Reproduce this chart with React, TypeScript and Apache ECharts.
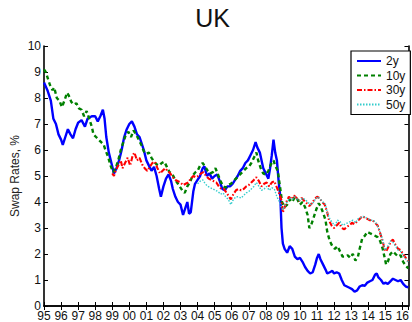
import React, { useEffect, useRef } from "react";
import * as echarts from "echarts";

const titleText = "UK";
const yAxisTitle = "Swap Rates, %";
const seriesNames = ["2y", "10y", "30y", "50y"];
const xMin = 1995;
const xMax = 2016.36;

const t2y = [1995.0, 1995.2, 1995.4, 1995.55, 1995.7, 1995.85, 1996.0, 1996.1, 1996.25, 1996.4, 1996.55, 1996.7, 1996.85, 1997.0, 1997.2, 1997.4, 1997.55, 1997.8, 1998.0, 1998.15, 1998.3, 1998.45, 1998.55, 1998.65, 1998.8, 1998.95, 1999.1, 1999.25, 1999.4, 1999.55, 1999.7, 1999.85, 2000.0, 2000.15, 2000.3, 2000.45, 2000.6, 2000.75, 2000.85, 2001.0, 2001.15, 2001.3, 2001.45, 2001.6, 2001.75, 2001.85, 2002.0, 2002.15, 2002.3, 2002.45, 2002.55, 2002.7, 2002.85, 2003.0, 2003.15, 2003.3, 2003.4, 2003.5, 2003.6, 2003.75, 2003.85, 2004.0, 2004.15, 2004.3, 2004.4, 2004.55, 2004.7, 2004.85, 2005.0, 2005.15, 2005.3, 2005.45, 2005.6, 2005.75, 2005.9, 2006.05, 2006.2, 2006.35, 2006.5, 2006.65, 2006.8, 2006.95, 2007.1, 2007.25, 2007.4, 2007.5, 2007.65, 2007.75, 2007.85, 2008.0, 2008.15, 2008.25, 2008.35, 2008.45, 2008.55, 2008.65, 2008.75, 2008.85, 2008.92, 2009.0, 2009.1, 2009.25, 2009.4, 2009.55, 2009.7, 2009.85, 2010.0, 2010.15, 2010.3, 2010.45, 2010.6, 2010.75, 2010.9, 2011.0, 2011.1, 2011.2, 2011.35, 2011.5, 2011.6, 2011.75, 2011.9, 2012.0, 2012.15, 2012.3, 2012.45, 2012.6, 2012.75, 2012.9, 2013.05, 2013.2, 2013.35, 2013.5, 2013.65, 2013.8, 2013.95, 2014.1, 2014.25, 2014.4, 2014.5, 2014.6, 2014.75, 2014.9, 2015.0, 2015.15, 2015.3, 2015.45, 2015.6, 2015.75, 2015.9, 2016.05, 2016.2, 2016.35];
const r2y = [8.6, 8.3, 7.9, 7.2, 7.0, 6.6, 6.4, 6.2, 6.5, 6.8, 6.6, 6.45, 6.8, 7.05, 7.15, 6.9, 7.2, 7.3, 7.3, 7.1, 7.3, 7.55, 7.2, 6.5, 5.9, 5.5, 5.1, 5.3, 5.6, 6.0, 6.5, 6.8, 7.0, 7.1, 6.9, 6.6, 6.5, 6.2, 6.0, 5.6, 5.4, 5.2, 5.35, 5.0, 4.5, 4.2, 4.6, 4.9, 5.06, 4.8, 4.5, 4.2, 4.0, 3.9, 3.5, 3.8, 4.0, 3.55, 3.6, 4.4, 4.7, 4.85, 5.0, 5.3, 5.37, 5.0, 5.1, 4.9, 5.0, 5.06, 4.8, 4.5, 4.45, 4.6, 4.6, 4.7, 4.85, 5.0, 5.2, 5.3, 5.5, 5.6, 5.8, 6.0, 6.3, 6.1, 5.9, 5.6, 5.3, 5.1, 4.9, 5.3, 5.8, 6.4, 5.9, 5.6, 4.8, 4.2, 3.0, 2.4, 2.2, 2.05, 2.3, 2.2, 1.9, 1.8, 1.85, 1.7, 1.5, 1.35, 1.25, 1.3, 1.6, 1.85, 2.0, 1.8, 1.6, 1.4, 1.25, 1.3, 1.35, 1.25, 1.3, 1.25, 1.0, 0.8, 0.75, 0.7, 0.65, 0.55, 0.6, 0.75, 0.8, 0.78, 0.9, 0.95, 1.0, 1.2, 1.25, 1.1, 1.0, 0.85, 0.9, 0.85, 0.95, 1.05, 1.0, 0.95, 1.0, 0.85, 0.75, 0.72];

const t10y = [1995.0, 1995.1, 1995.2, 1995.35, 1995.5, 1995.6, 1995.75, 1995.9, 1996.05, 1996.2, 1996.35, 1996.45, 1996.6, 1996.75, 1996.9, 1997.05, 1997.2, 1997.35, 1997.5, 1997.65, 1997.8, 1997.9, 1998.05, 1998.2, 1998.35, 1998.5, 1998.6, 1998.75, 1998.9, 1999.05, 1999.2, 1999.35, 1999.5, 1999.65, 1999.8, 1999.95, 2000.1, 2000.25, 2000.4, 2000.55, 2000.7, 2000.85, 2001.0, 2001.15, 2001.3, 2001.45, 2001.6, 2001.75, 2001.9, 2002.05, 2002.2, 2002.35, 2002.5, 2002.65, 2002.8, 2002.95, 2003.1, 2003.25, 2003.4, 2003.55, 2003.7, 2003.85, 2004.0, 2004.15, 2004.3, 2004.45, 2004.6, 2004.75, 2004.9, 2005.05, 2005.2, 2005.35, 2005.5, 2005.65, 2005.8, 2005.95, 2006.1, 2006.25, 2006.4, 2006.55, 2006.7, 2006.85, 2007.0, 2007.15, 2007.3, 2007.45, 2007.55, 2007.7, 2007.85, 2008.0, 2008.15, 2008.3, 2008.45, 2008.55, 2008.7, 2008.85, 2008.95, 2009.1, 2009.25, 2009.4, 2009.55, 2009.7, 2009.85, 2010.0, 2010.15, 2010.3, 2010.45, 2010.55, 2010.65, 2010.8, 2010.95, 2011.1, 2011.2, 2011.35, 2011.5, 2011.6, 2011.75, 2011.9, 2012.05, 2012.2, 2012.35, 2012.5, 2012.65, 2012.8, 2012.95, 2013.1, 2013.25, 2013.4, 2013.5, 2013.65, 2013.8, 2013.95, 2014.1, 2014.25, 2014.4, 2014.55, 2014.7, 2014.85, 2014.95, 2015.05, 2015.15, 2015.3, 2015.45, 2015.6, 2015.75, 2015.9, 2016.05, 2016.2, 2016.35];
const r10y = [9.1, 9.0, 8.8, 8.5, 8.3, 8.4, 8.0, 7.9, 7.65, 7.9, 8.2, 8.1, 7.85, 7.75, 7.8, 7.6, 7.55, 7.3, 7.5, 7.2, 6.9, 6.6, 6.5, 6.4, 6.3, 6.2, 6.0, 5.75, 5.4, 5.15, 5.3, 5.6, 6.0, 6.3, 6.6, 6.7, 6.5, 6.75, 6.6, 6.4, 6.2, 5.95, 5.85, 5.9, 5.7, 5.55, 5.45, 5.4, 5.5, 5.55, 5.35, 5.15, 5.1, 4.9, 4.75, 4.6, 4.45, 4.35, 4.6, 4.75, 5.0, 5.13, 5.2, 5.4, 5.5, 5.35, 5.2, 5.1, 5.15, 5.3, 5.05, 4.8, 4.6, 4.55, 4.65, 4.7, 4.8, 4.9, 5.0, 5.1, 5.2, 5.3, 5.35, 5.5, 5.7, 5.9, 5.6, 5.3, 5.1, 5.05, 5.2, 5.45, 5.6, 5.4, 5.2, 4.5, 4.0, 3.8, 3.9, 4.1, 4.0, 4.2, 4.1, 3.9, 4.0, 3.8, 3.5, 3.0, 3.1, 3.4, 3.7, 3.95, 3.85, 3.6, 3.3, 2.85, 2.5, 2.3, 2.2, 2.3, 2.1, 1.9, 1.9, 1.95, 1.85, 2.0, 1.75, 1.9, 2.2, 2.6, 2.7, 2.85, 2.8, 2.75, 2.7, 2.65, 2.5, 2.2, 1.9, 1.6, 1.7, 2.0, 2.1, 2.0, 1.9, 1.95, 1.7, 1.55, 1.45];

const t30y = [1999.0, 1999.1, 1999.2, 1999.35, 1999.5, 1999.6, 1999.75, 1999.9, 2000.05, 2000.2, 2000.3, 2000.45, 2000.6, 2000.75, 2000.9, 2001.05, 2001.2, 2001.35, 2001.5, 2001.65, 2001.8, 2001.95, 2002.1, 2002.25, 2002.4, 2002.55, 2002.7, 2002.85, 2003.0, 2003.15, 2003.3, 2003.45, 2003.6, 2003.75, 2003.9, 2004.05, 2004.2, 2004.35, 2004.5, 2004.65, 2004.8, 2004.95, 2005.1, 2005.25, 2005.4, 2005.55, 2005.7, 2005.85, 2005.95, 2006.1, 2006.25, 2006.4, 2006.55, 2006.7, 2006.85, 2007.0, 2007.15, 2007.3, 2007.45, 2007.6, 2007.75, 2007.9, 2008.05, 2008.2, 2008.35, 2008.5, 2008.65, 2008.8, 2008.9, 2009.0, 2009.1, 2009.2, 2009.35, 2009.5, 2009.65, 2009.8, 2009.95, 2010.1, 2010.25, 2010.4, 2010.55, 2010.7, 2010.85, 2011.0, 2011.15, 2011.3, 2011.45, 2011.6, 2011.7, 2011.85, 2012.0, 2012.15, 2012.3, 2012.45, 2012.6, 2012.75, 2012.9, 2013.05, 2013.2, 2013.35, 2013.5, 2013.65, 2013.8, 2013.95, 2014.1, 2014.25, 2014.4, 2014.55, 2014.7, 2014.85, 2014.95, 2015.05, 2015.2, 2015.35, 2015.45, 2015.6, 2015.75, 2015.9, 2016.05, 2016.2, 2016.35];
const r30y = [5.1, 5.0, 5.2, 5.4, 5.6, 5.3, 5.5, 5.7, 5.4, 5.8, 5.9, 5.6, 5.7, 5.45, 5.3, 5.2, 5.35, 5.5, 5.55, 5.3, 5.1, 5.2, 5.3, 5.2, 5.1, 4.95, 4.85, 4.8, 4.75, 4.65, 4.7, 4.75, 4.9, 5.0, 4.95, 5.0, 5.1, 5.15, 5.0, 4.9, 4.85, 4.8, 4.75, 4.6, 4.5, 4.5, 4.35, 4.2, 4.1, 4.3, 4.45, 4.5, 4.45, 4.5, 4.6, 4.65, 4.75, 4.85, 4.95, 4.8, 4.6, 4.7, 4.75, 4.6, 4.75, 4.8, 4.55, 4.3, 4.1, 3.6, 3.8, 4.0, 4.2, 4.1, 4.25, 4.15, 4.05, 4.15, 4.05, 3.95, 3.85, 3.95, 4.1, 4.2, 4.15, 4.0, 3.9, 3.6, 3.3, 3.1, 3.0, 3.1, 3.2, 3.0, 2.95, 3.05, 3.1, 3.2, 3.15, 3.25, 3.35, 3.45, 3.4, 3.35, 3.3, 3.3, 3.2, 3.1, 2.8, 2.5, 2.2, 2.1, 2.3, 2.5, 2.55, 2.35, 2.2, 2.15, 2.0, 1.85, 1.7];

const t50y = [2004.0, 2004.15, 2004.3, 2004.45, 2004.6, 2004.75, 2004.9, 2005.05, 2005.2, 2005.35, 2005.5, 2005.65, 2005.8, 2005.95, 2006.1, 2006.25, 2006.4, 2006.55, 2006.7, 2006.85, 2007.0, 2007.15, 2007.3, 2007.45, 2007.6, 2007.75, 2007.9, 2008.05, 2008.2, 2008.35, 2008.5, 2008.65, 2008.8, 2008.9, 2009.0, 2009.1, 2009.25, 2009.4, 2009.55, 2009.7, 2009.85, 2010.0, 2010.15, 2010.3, 2010.45, 2010.6, 2010.75, 2010.9, 2011.05, 2011.2, 2011.35, 2011.5, 2011.6, 2011.75, 2011.9, 2012.05, 2012.2, 2012.35, 2012.5, 2012.65, 2012.8, 2012.95, 2013.1, 2013.25, 2013.4, 2013.55, 2013.7, 2013.85, 2014.0, 2014.15, 2014.3, 2014.45, 2014.6, 2014.75, 2014.9, 2015.0, 2015.15, 2015.3, 2015.45, 2015.6, 2015.75, 2015.9, 2016.05, 2016.2, 2016.35];
const r50y = [4.7, 4.8, 4.85, 4.7, 4.6, 4.55, 4.5, 4.45, 4.4, 4.3, 4.35, 4.2, 4.1, 3.9, 4.1, 4.2, 4.2, 4.15, 4.25, 4.35, 4.4, 4.5, 4.6, 4.75, 4.6, 4.45, 4.5, 4.6, 4.45, 4.55, 4.5, 4.2, 4.0, 3.8, 3.7, 3.85, 4.0, 4.15, 4.1, 4.2, 4.1, 4.05, 4.15, 4.1, 4.0, 3.9, 3.95, 4.1, 4.2, 4.1, 4.0, 3.9, 3.6, 3.35, 3.2, 3.1, 3.3, 3.25, 3.1, 3.15, 3.2, 3.25, 3.3, 3.2, 3.35, 3.4, 3.45, 3.4, 3.35, 3.3, 3.3, 3.2, 3.0, 2.75, 2.4, 2.15, 2.3, 2.5, 2.45, 2.3, 2.15, 2.1, 1.95, 1.8, 1.7];

const FONT = "'Liberation Sans', Arial, Helvetica, sans-serif";

function zip(t: number[], r: number[]) {
  return t.map((d, i) => [d, r[i]]);
}

export default function App() {
  const ref = useRef<HTMLDivElement>(null);
  useEffect(() => {
    if (!ref.current) return;
    const chart = echarts.init(ref.current, null, { renderer: "svg" });
    const axisCommon = {
      axisLine: { show: true, lineStyle: { color: "#000", width: 1.6 } },
      axisTick: { show: true, inside: true, length: 4, lineStyle: { color: "#000", width: 1 } },
      splitLine: { show: false },
    };
    chart.setOption({
      animation: false,
      backgroundColor: "#fff",
      grid: { left: 44, right: 2, top: 46, bottom: 15, containLabel: false },
      graphic: [
        {
          type: "text",
          x: 212.5,
          y: 18,
          style: { text: titleText, fontSize: 25, fontFamily: FONT, fill: "#111", textAlign: "center", textVerticalAlign: "middle" },
        },
        {
          type: "text",
          x: 15,
          y: 176,
          rotation: Math.PI / 2,
          style: { text: yAxisTitle, fontSize: 12, fontFamily: FONT, fill: "#222", textAlign: "center", textVerticalAlign: "middle" },
        },
      ],
      xAxis: [
        {
          type: "value",
          position: "bottom",
          min: xMin,
          max: xMax,
          interval: 1,
          ...axisCommon,
          axisLabel: {
            show: true,
            margin: 4,
            fontSize: 12,
            lineHeight: 12,
            fontFamily: FONT,
            color: "#111",
            showMaxLabel: false,
            formatter: (v: number) => String(Math.round(v) % 100).padStart(2, "0"),
          },
        },
        {
          type: "value",
          position: "top",
          min: xMin,
          max: xMax,
          interval: 1,
          ...axisCommon,
          axisLabel: { show: false },
        },
      ],
      yAxis: [
        {
          type: "value",
          position: "left",
          min: 0,
          max: 10,
          interval: 1,
          ...axisCommon,
          axisLabel: { show: true, margin: 3, fontSize: 12, lineHeight: 8, fontFamily: FONT, color: "#111", verticalAlign: "middle" },
        },
        {
          type: "value",
          position: "right",
          min: 0,
          max: 10,
          interval: 1,
          ...axisCommon,
          axisLabel: { show: false },
        },
      ],
      legend: {
        show: true,
        orient: "vertical",
        left: 351,
        top: 51,
        padding: [4, 5, 4, 5],
        itemWidth: 24,
        itemHeight: 10,
        itemGap: 2.5,
        backgroundColor: "#fff",
        borderColor: "#000",
        borderWidth: 1.2,
        itemStyle: { opacity: 0, borderWidth: 0 },
        textStyle: { fontSize: 12, fontFamily: FONT, color: "#111" },
        data: seriesNames,
      },
      series: [
        {
          name: seriesNames[0],
          type: "line",
          symbol: "none",
          data: zip(t2y, r2y),
          lineStyle: { color: "#0000ff", width: 2.4, type: "solid" },
          itemStyle: { color: "#0000ff" },
        },
        {
          name: seriesNames[1],
          type: "line",
          symbol: "none",
          data: zip(t10y, r10y),
          lineStyle: { color: "#008000", width: 2.4, type: [4, 3] },
          itemStyle: { color: "#008000" },
        },
        {
          name: seriesNames[2],
          type: "line",
          symbol: "none",
          data: zip(t30y, r30y),
          lineStyle: { color: "#ff0000", width: 2.1, type: [5, 2, 1.5, 2] },
          itemStyle: { color: "#ff0000" },
        },
        {
          name: seriesNames[3],
          type: "line",
          symbol: "none",
          data: zip(t50y, r50y),
          lineStyle: { color: "#33cccc", width: 1.4, type: [1.5, 1.5] },
          itemStyle: { color: "#33cccc" },
        },
      ],
    });
    return () => chart.dispose();
  }, []);
  return <div ref={ref} style={{ width: 412, height: 322, position: "absolute", left: 0, top: 0 }} />;
}
